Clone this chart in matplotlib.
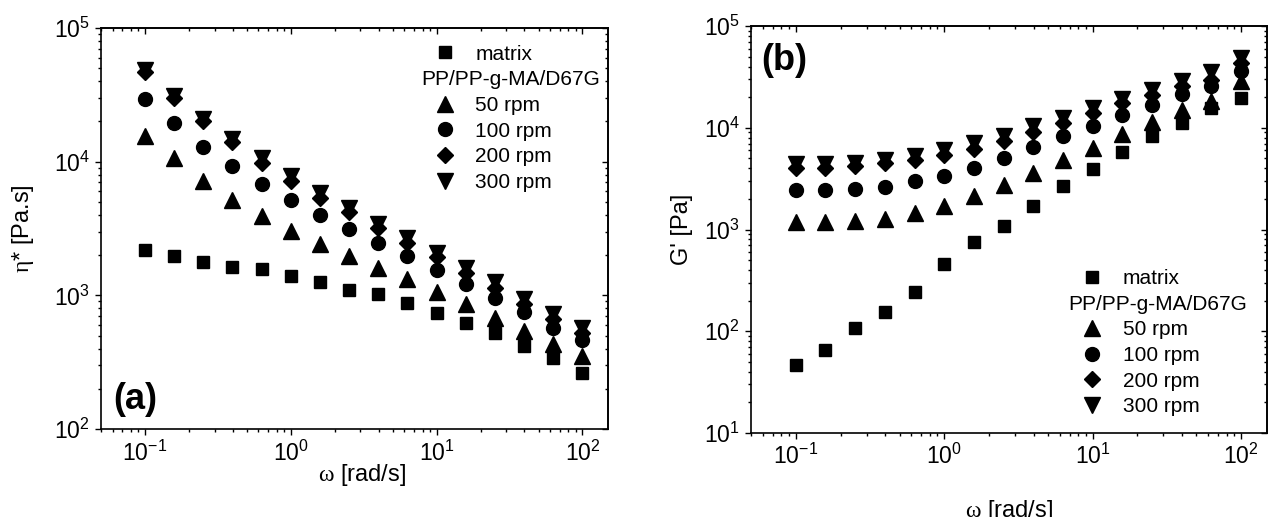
import numpy as np
import matplotlib
matplotlib.use("Agg")
import matplotlib.pyplot as plt
from matplotlib.lines import Line2D
from matplotlib.ticker import LogLocator, NullFormatter

plt.rcParams['font.family'] = ['Liberation Sans', 'DejaVu Sans']
plt.rcParams['mathtext.fontset'] = 'custom'
plt.rcParams['mathtext.rm'] = 'Liberation Sans'
plt.rcParams['mathtext.it'] = 'Liberation Serif'

# angular frequency sweep, 5 points per decade
omega = [0.1, 0.158, 0.251, 0.398, 0.631, 1.0, 1.58, 2.51, 3.98, 6.31,
         10.0, 15.8, 25.1, 39.8, 63.1, 100.0]

series_names = ["matrix", "50 rpm", "100 rpm", "200 rpm", "300 rpm"]

# complex viscosity eta* [Pa.s]
eta_matrix = [2170, 1970, 1780, 1640, 1585, 1400, 1260, 1105, 1020, 884,
              744, 626, 524, 420, 340, 265]
eta_50 = [15500, 10700, 7160, 5130, 3920, 3030, 2440, 1970, 1610, 1320,
          1060, 860, 683, 543, 432, 353]
eta_100 = [29600, 19500, 12900, 9270, 6840, 5130, 3970, 3120, 2450, 1970,
           1550, 1225, 963, 757, 575, 462]
eta_200 = [46900, 30000, 20100, 14000, 9700, 7160, 5380, 4230, 3170, 2450,
           1940, 1480, 1130, 860, 664, 527]
eta_300 = [48800, 31200, 21000, 14800, 10700, 7800, 5860, 4530, 3440, 2700,
           2090, 1610, 1250, 946, 723, 575]

# storage modulus G' [Pa]
g_matrix = [46.6, 65.3, 108, 155, 243, 460, 748, 1090, 1710, 2680,
            3970, 5770, 8270, 11200, 15700, 19600]
g_50 = [1190, 1190, 1220, 1270, 1470, 1710, 2140, 2720, 3620, 4780,
        6360, 8720, 11300, 15100, 18500, 29000]
g_100 = [2450, 2450, 2490, 2620, 3000, 3360, 4060, 5080, 6460, 8270,
         10400, 13500, 16900, 21600, 25500, 36600]
g_200 = [4060, 4060, 4210, 4470, 4820, 5350, 6130, 7390, 9050, 11200,
         14000, 17500, 21100, 25500, 29600, 43200]
g_300 = [4370, 4370, 4540, 4820, 5270, 6040, 7120, 8400, 10400, 12500,
         15700, 19300, 23700, 28600, 35700, 48300]

markers = [('s', 8.6), ('^', 11.5), ('o', 10), ('D', 8.2), ('v', 11.5)]
header = "PP/PP-g-MA/D67G"
FS = 15       # legend
TICK_FS = 16.5
LABEL_FS = 17


def style_axes(ax, ylim):
    ax.set_xscale('log')
    ax.set_yscale('log')
    ax.set_xlim(0.05, 150)
    ax.set_ylim(*ylim)
    for sp in ax.spines.values():
        sp.set_linewidth(1.2)
    ax.tick_params(which='both', direction='out', labelsize=TICK_FS, width=1.0,
                   top=False, right=False, pad=4)
    ax.tick_params(which='major', length=4)
    ax.tick_params(which='minor', length=2.5)
    ax.yaxis.set_minor_locator(LogLocator(base=10, subs=np.arange(2, 10), numticks=20))
    ax.yaxis.set_minor_formatter(NullFormatter())
    ax.xaxis.set_minor_formatter(NullFormatter())
    # mirrored top/right axes with inward ticks
    top = ax.secondary_xaxis('top', functions=(lambda v: v, lambda v: v))
    right = ax.secondary_yaxis('right', functions=(lambda v: v, lambda v: v))
    for sec in (top, right):
        sec.tick_params(which='both', direction='in', width=1.0,
                        labeltop=False, labelright=False)
        sec.tick_params(which='major', length=4)
        sec.tick_params(which='minor', length=2.5)
        for sp in sec.spines.values():
            sp.set_linewidth(1.2)
    right.yaxis.set_minor_locator(LogLocator(base=10, subs=np.arange(2, 10), numticks=20))
    right.yaxis.set_minor_formatter(NullFormatter())
    top.xaxis.set_minor_formatter(NullFormatter())


def add_legend(ax, handles, anchor):
    leg = ax.legend(handles=handles, loc='upper left', bbox_to_anchor=anchor,
                    frameon=False, fontsize=FS, borderpad=0, borderaxespad=0,
                    handlelength=1.0, handletextpad=0.95, labelspacing=0.32,
                    numpoints=1)
    # group title sits in the blank row, starting left of the marker column
    ax.annotate(header, xy=(0, 0.5), xycoords=leg.get_texts()[1],
                xytext=(-39, 0), textcoords='offset points',
                ha='left', va='center', fontsize=FS, zorder=10)
    return leg


def plot_panel(ax, ys):
    handles = []
    for name, y, (m, ms) in zip(series_names, ys, markers):
        ln, = ax.plot(omega, y, linestyle='none', marker=m, markersize=ms,
                      color='black', label=name)
        handles.append(ln)
    blank = Line2D([], [], linestyle='none', label=' ')
    return [handles[0], blank] + handles[1:]


fig = plt.figure(figsize=(12.71, 5.17), dpi=100)
ax1 = fig.add_axes([0.0795, 0.170, 0.399, 0.776])
ax2 = fig.add_axes([0.591, 0.1625, 0.406, 0.787])

h1 = plot_panel(ax1, [eta_matrix, eta_50, eta_100, eta_200, eta_300])
style_axes(ax1, (1e2, 1e5))
add_legend(ax1, h1, (0.658, 0.958))
ax1.set_xlabel(r'$\omega$ [rad/s]', fontsize=LABEL_FS)
ax1.set_ylabel(r'$\eta$* [Pa.s]', fontsize=LABEL_FS)
ax1.xaxis.set_label_coords(0.515, -0.082)
ax1.yaxis.set_label_coords(-0.128, 0.5)
ax1.text(0.025, 0.075, '(a)', transform=ax1.transAxes, fontsize=26,
         fontweight='bold', va='center', ha='left')

h2 = plot_panel(ax2, [g_matrix, g_50, g_100, g_200, g_300])
style_axes(ax2, (1e1, 1e5))
add_legend(ax2, h2, (0.641, 0.403))
ax2.set_xlabel(r'$\omega$ [rad/s]', fontsize=LABEL_FS)
ax2.set_ylabel("G' [Pa]", fontsize=LABEL_FS)
ax2.xaxis.set_label_coords(0.5, -0.16)
ax2.yaxis.set_label_coords(-0.112, 0.5)
ax2.text(0.02, 0.915, '(b)', transform=ax2.transAxes, fontsize=26,
         fontweight='bold', va='center', ha='left')

fig.savefig('out.png', dpi=100)
